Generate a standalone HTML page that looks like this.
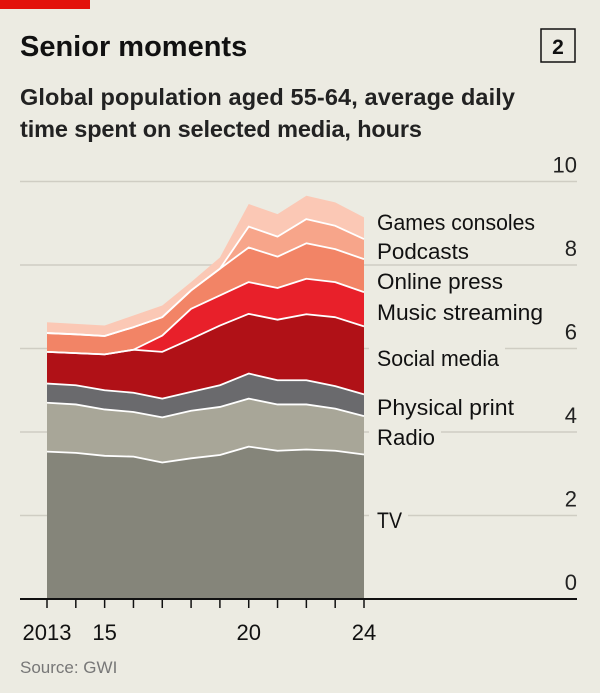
<!DOCTYPE html>
<html><head><meta charset="utf-8"><style>
body{margin:0;background:#ecebe2;}
svg{display:block;font-family:"Liberation Sans",sans-serif;}
</style></head><body>
<svg width="600" height="693" viewBox="0 0 600 693">
<rect width="600" height="693" fill="#ecebe2"/>
<rect x="0" y="0" width="90" height="9" fill="#e3120b"/>
<text x="20" y="56" font-size="29" font-weight="bold" fill="#111">Senior moments</text>
<rect x="541" y="29" width="34" height="33" fill="none" stroke="#111" stroke-width="1.5"/>
<text x="558" y="54" font-size="21" font-weight="bold" text-anchor="middle" fill="#111">2</text>
<text x="20" y="105" font-size="23.5" font-weight="bold" fill="#222" textLength="495">Global population aged 55-64, average daily</text>
<text x="20" y="137" font-size="23.5" font-weight="bold" fill="#222" textLength="402">time spent on selected media, hours</text>
<g id="grid"></g><g id="areas"></g><g id="labels"></g><g id="axis"></g>
<text x="20" y="673" font-size="17" fill="#777">Source: GWI</text>
</svg>
<script>
const years=[2013,2014,2015,2016,2017,2018,2019,2020,2021,2022,2023,2024];
const seriesNames=["TV","Radio","Physical print","Social media","Music streaming","Online press","Podcasts","Games consoles"];
const tv=[3.53,3.50,3.43,3.41,3.27,3.37,3.45,3.65,3.55,3.58,3.55,3.46];
const radio=[1.17,1.16,1.11,1.07,1.08,1.14,1.15,1.15,1.11,1.08,1.01,0.92];
const print=[0.46,0.46,0.46,0.46,0.45,0.45,0.52,0.60,0.58,0.58,0.54,0.52];
const social=[0.76,0.77,0.86,1.03,1.12,1.27,1.43,1.43,1.45,1.58,1.65,1.63];
const music=[0,0,0,0,0.39,0.72,0.72,0.76,0.76,0.85,0.84,0.82];
const online=[0.45,0.45,0.44,0.54,0.44,0.44,0.64,0.83,0.75,0.85,0.79,0.79];
const podcasts=[0,0,0,0,0,0,0,0.50,0.48,0.58,0.56,0.48];
const games=[0.26,0.25,0.25,0.28,0.28,0.20,0.27,0.54,0.54,0.56,0.56,0.52];
const yTicks=[0,2,4,6,8,10];
const xTickLabels=[[2013,"2013"],[2015,"15"],[2020,"20"],[2024,"24"]];
const labelY=[520,437,407,358,312,281,251,222];
const labelWidths=[25,58,137,122,166,126,92,158];

const NS="http://www.w3.org/2000/svg";
const x=y=>47+(y-2013)*(364-47)/11;
const yS=v=>599-v*41.75;
function mk(t,a,p){const e=document.createElementNS(NS,t);for(const k in a)e.setAttribute(k,a[k]);p.appendChild(e);return e;}
const grid=document.getElementById('grid'),areas=document.getElementById('areas'),labels=document.getElementById('labels'),axis=document.getElementById('axis');
yTicks.forEach(t=>{
 if(t>0){const l=mk('line',{x1:20,x2:577,y1:yS(t),y2:yS(t),stroke:'#cfcdc3','stroke-width':1.5},grid);
 
 }
 const tx=mk('text',{x:577,y:yS(t)-9,'font-size':22,'text-anchor':'end',fill:'#222'},grid);
 tx.textContent=t;
 
 
});
const data=[tv,radio,print,social,music,online,podcasts,games];
const colors=["#85857a","#a8a698","#6a6a6d","#b01117","#e8202a","#f28466","#f7a58a","#fbc8b5"];
let base=years.map(()=>0);
const tops=[];
data.forEach((s,i)=>{
 const top=base.map((b,j)=>b+s[j]);
 let d='M'+years.map((yr,j)=>x(yr)+','+yS(top[j])).join('L');
 for(let j=years.length-1;j>=0;j--)d+='L'+x(years[j])+','+yS(base[j]);
 const p=mk('path',{d:d+'Z',fill:colors[i]},areas);
 
 
 tops.push(top);base=top;
});
tops.forEach((top,i)=>{
 if(i===tops.length-1)return;
 const l=mk('polyline',{points:years.map((yr,j)=>x(yr)+','+yS(top[j])).join(' '),fill:'none',stroke:'#fff','stroke-width':1.8,'stroke-linejoin':'round'},areas);
 
 
});
seriesNames.forEach((n,i)=>{
 const w=labelWidths[i];
 const r=mk('rect',{x:369,y:labelY[i]-14,width:w+14,height:26,fill:'#ecebe2'},labels);
 
 
 const t=mk('text',{x:377,y:labelY[i]+8,'font-size':22,fill:'#111',textLength:w,lengthAdjust:'spacingAndGlyphs'},labels);
 t.textContent=n;
 
 
});
const ax=mk('line',{x1:20,x2:577,y1:599,y2:599,stroke:'#111','stroke-width':2},axis);


years.forEach(yr=>{
 const t=mk('line',{x1:x(yr),x2:x(yr),y1:599,y2:608,stroke:'#111','stroke-width':1.5},axis);
 
 
});
xTickLabels.forEach(([yr,lab])=>{
 const t=mk('text',{x:x(yr),y:640,'font-size':22,'text-anchor':'middle',fill:'#111'},axis);
 t.textContent=lab;
 
 
});
</script>
</body></html>
